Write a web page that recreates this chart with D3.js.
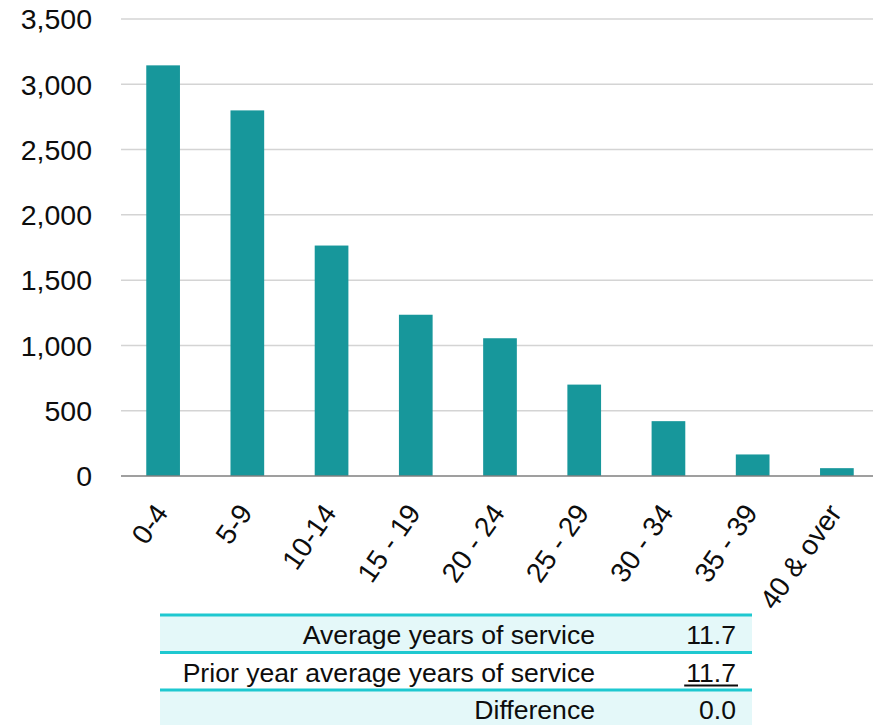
<!DOCTYPE html>
<html>
<head>
<meta charset="utf-8">
<script src="https://cdn.jsdelivr.net/npm/d3@7"></script>
<style>
  html, body { margin: 0; padding: 0; background: #fff; }
  svg { display: block; font-family: "Liberation Sans", Arial, sans-serif; }
</style>
</head>
<body>
<svg id="chart" width="873" height="725"></svg>
<script>
// Headcount by years of service
const categories = ["0-4", "5-9", "10-14", "15 - 19", "20 - 24", "25 - 29", "30 - 34", "35 - 39", "40 & over"];
const counts = [3145, 2800, 1765, 1235, 1055, 700, 420, 165, 60];
const yTicks = [0, 500, 1000, 1500, 2000, 2500, 3000, 3500];

// Summary table under the chart
const summaryLabels = ["Average years of service", "Prior year average years of service", "Difference"];
const summaryValues = ["11.7", "11.7", "0.0"];
const summaryUnderlined = [false, true, false];

const svg = d3.select("#chart");
const W = 873;
const plot = { left: 121, right: 879, top: 19, bottom: 476 };

const x = d3.scaleBand()
  .domain(categories)
  .range([plot.left, plot.right])
  .paddingInner(0.6)
  .paddingOuter(0.3);

const y = d3.scaleLinear()
  .domain([0, 3500])
  .range([plot.bottom, plot.top]);

// Horizontal gridlines
svg.append("g")
  .selectAll("line")
  .data(yTicks.filter(d => d > 0))
  .join("line")
  .attr("x1", plot.left).attr("x2", W)
  .attr("y1", d => y(d)).attr("y2", d => y(d))
  .attr("stroke", "#d4d4d4")
  .attr("stroke-width", 1.5);

// Y axis labels
const fmt = d3.format(",");
svg.append("g")
  .selectAll("text")
  .data(yTicks)
  .join("text")
  .attr("x", 92)
  .attr("y", d => y(d))
  .attr("text-anchor", "end")
  .attr("dy", "0.36em")
  .attr("font-size", 28.5)
  .attr("fill", "#0d0d0d")
  .text(d => fmt(d));

// Bars
svg.append("g")
  .selectAll("rect")
  .data(counts)
  .join("rect")
  .attr("x", (d, i) => x(categories[i]))
  .attr("width", x.bandwidth())
  .attr("y", d => y(d))
  .attr("height", d => y(0) - y(d))
  .attr("fill", "#17979b");

// Baseline
svg.append("line")
  .attr("x1", plot.left).attr("x2", W)
  .attr("y1", y(0)).attr("y2", y(0))
  .attr("stroke", "#7f7f7f")
  .attr("stroke-width", 1.5);

// Category labels, slanted
svg.append("g")
  .selectAll("text")
  .data(categories)
  .join("text")
  .attr("transform", d => `translate(${x(d) + x.bandwidth() / 2 + 6},${y(0) + 37}) rotate(-55)`)
  .attr("text-anchor", "end")
  .attr("font-size", 28)
  .attr("fill", "#0d0d0d")
  .text(d => d);

// Summary table
const table = { left: 160, right: 752, top: 615, rowH: 37.5, labelRight: 595, valueRight: 736 };
const rows = svg.append("g")
  .selectAll("g")
  .data(summaryLabels)
  .join("g")
  .attr("transform", (d, i) => `translate(0,${table.top + i * table.rowH})`);

rows.append("rect")
  .attr("x", table.left)
  .attr("width", table.right - table.left)
  .attr("height", table.rowH)
  .attr("fill", (d, i) => i % 2 === 0 ? "#e4f8f9" : "#ffffff");

rows.append("line")
  .attr("x1", table.left).attr("x2", table.right)
  .attr("y1", 0).attr("y2", 0)
  .attr("stroke", "#1ec8d0")
  .attr("stroke-width", 3);

rows.append("text")
  .attr("x", table.labelRight)
  .attr("y", 29)
  .attr("text-anchor", "end")
  .attr("font-size", 26.6)
  .attr("fill", "#0d0d0d")
  .text(d => d);

rows.append("text")
  .attr("class", "val")
  .attr("x", table.valueRight)
  .attr("y", 29)
  .attr("text-anchor", "end")
  .attr("font-size", 26.6)
  .attr("fill", "#0d0d0d")
  .text((d, i) => summaryValues[i]);

// Underline under the prior-year value
rows.each(function (d, i) {
  if (!summaryUnderlined[i]) return;
  const g = d3.select(this);
  const len = g.select("text.val").node().getComputedTextLength();
  g.append("line")
    .attr("x1", table.valueRight - len - 2).attr("x2", table.valueRight + 2)
    .attr("y1", 33).attr("y2", 33)
    .attr("stroke", "#0d0d0d")
    .attr("stroke-width", 2);
});
</script>
</body>
</html>
